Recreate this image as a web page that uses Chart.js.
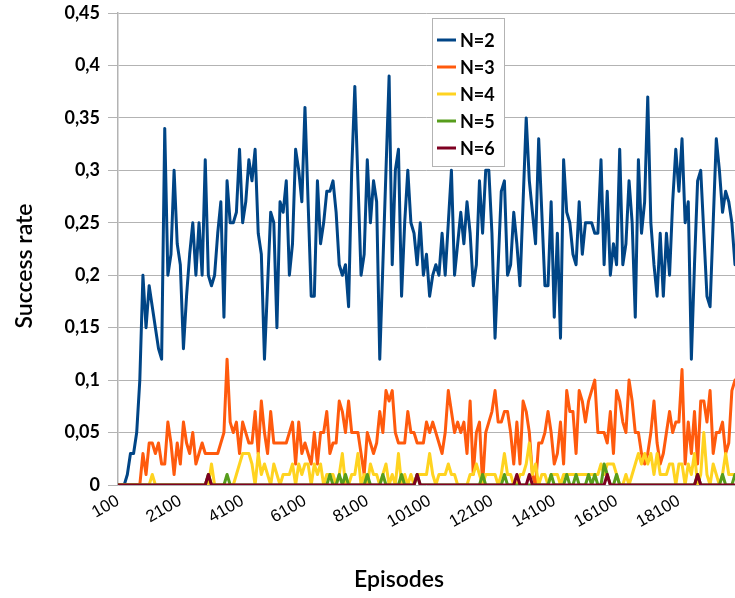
<!DOCTYPE html>
<html>
<head>
<meta charset="utf-8">
<title>Success rate</title>
<script src="https://cdn.jsdelivr.net/npm/chart.js@4"></script>
<style>
  html, body { margin: 0; padding: 0; background: #fff; overflow: hidden; }
  canvas { display: block; }
</style>
</head>
<body>
<canvas id="rateChart" width="735" height="598"></canvas>
<script>
// episodes 100 .. 19900, one sample every 100 episodes
var episodes = Array.from({ length: 199 }, function(_, i) { return 100 + i * 100; });
var tickLabels = [100, 2100, 4100, 6100, 8100, 10100, 12100, 14100, 16100, 18100];
var yTicks = [0, 0.05, 0.1, 0.15, 0.2, 0.25, 0.3, 0.35, 0.4, 0.45];
var seriesNames = ['N=2', 'N=3', 'N=4', 'N=5', 'N=6'];

var n2 = [
  0, 0, 0, 0.01, 0.03, 0.03, 0.05, 0.10, 0.20, 0.15,
  0.19, 0.17, 0.15, 0.13, 0.12, 0.34, 0.20, 0.22, 0.30, 0.23,
  0.21, 0.13, 0.18, 0.22, 0.25, 0.20, 0.25, 0.20, 0.31, 0.20,
  0.19, 0.20, 0.24, 0.27, 0.16, 0.29, 0.25, 0.25, 0.26, 0.32,
  0.25, 0.27, 0.31, 0.29, 0.32, 0.24, 0.22, 0.12, 0.19, 0.26,
  0.25, 0.15, 0.27, 0.26, 0.29, 0.20, 0.23, 0.32, 0.30, 0.27,
  0.36, 0.27, 0.18, 0.18, 0.29, 0.23, 0.25, 0.28, 0.28, 0.29,
  0.26, 0.21, 0.20, 0.21, 0.17, 0.30, 0.38, 0.29, 0.20, 0.22,
  0.31, 0.25, 0.29, 0.27, 0.12, 0.21, 0.30, 0.39, 0.21, 0.30,
  0.32, 0.18, 0.25, 0.30, 0.25, 0.24, 0.21, 0.25, 0.20, 0.22,
  0.18, 0.20, 0.21, 0.20, 0.24, 0.20, 0.25, 0.30, 0.20, 0.23,
  0.26, 0.23, 0.27, 0.24, 0.19, 0.21, 0.29, 0.24, 0.30, 0.30,
  0.24, 0.14, 0.21, 0.28, 0.29, 0.20, 0.21, 0.26, 0.23, 0.19,
  0.27, 0.35, 0.29, 0.26, 0.23, 0.33, 0.26, 0.19, 0.19, 0.27,
  0.16, 0.24, 0.14, 0.31, 0.26, 0.25, 0.22, 0.21, 0.27, 0.22,
  0.25, 0.25, 0.25, 0.24, 0.24, 0.31, 0.21, 0.28, 0.20, 0.23,
  0.21, 0.32, 0.21, 0.23, 0.29, 0.25, 0.16, 0.31, 0.24, 0.27,
  0.37, 0.25, 0.21, 0.18, 0.24, 0.18, 0.24, 0.20, 0.27, 0.32,
  0.28, 0.33, 0.25, 0.27, 0.12, 0.21, 0.29, 0.30, 0.24, 0.18,
  0.17, 0.25, 0.33, 0.30, 0.26, 0.28, 0.27, 0.25, 0.21
];

var n3 = [
  0, 0, 0, 0, 0, 0, 0, 0, 0.03, 0.01,
  0.04, 0.04, 0.03, 0.04, 0.02, 0.02, 0.06, 0.04, 0.01, 0.04,
  0.02, 0.06, 0.04, 0.03, 0.05, 0.02, 0.03, 0.04, 0.03, 0.03,
  0.03, 0.03, 0.03, 0.04, 0.05, 0.12, 0.06, 0.05, 0.06, 0.03,
  0.06, 0.05, 0.04, 0.04, 0.07, 0.03, 0.08, 0.05, 0.03, 0.07,
  0.04, 0.04, 0.04, 0.04, 0.04, 0.05, 0.06, 0.02, 0.06, 0.03,
  0.04, 0.03, 0.02, 0.05, 0.02, 0.05, 0.05, 0.07, 0.03, 0.04,
  0.04, 0.08, 0.07, 0.05, 0.08, 0.05, 0.05, 0.05, 0.03, 0.01,
  0.05, 0.04, 0.03, 0.04, 0.07, 0.05, 0.09, 0.08, 0.09, 0.05,
  0.04, 0.04, 0.04, 0.07, 0.05, 0.05, 0.04, 0.04, 0.04, 0.06,
  0.05, 0.06, 0.05, 0.04, 0.03, 0.05, 0.09, 0.07, 0.05, 0.06,
  0.05, 0.06, 0.03, 0.08, 0.01, 0.05, 0.06, 0, 0.05, 0.06,
  0.07, 0.09, 0.06, 0.06, 0.07, 0.07, 0.05, 0.02, 0.06, 0.02,
  0.08, 0.07, 0.05, 0.01, 0, 0.04, 0.04, 0.05, 0.07, 0.05,
  0.02, 0.03, 0.06, 0.02, 0.09, 0.07, 0.07, 0.03, 0.09, 0.08,
  0.06, 0.08, 0.09, 0.10, 0.05, 0.05, 0.05, 0.04, 0.07, 0.03,
  0.09, 0.08, 0.06, 0.05, 0.10, 0.08, 0.05, 0.05, 0.03, 0.02,
  0.03, 0.05, 0.08, 0.04, 0.02, 0.03, 0.05, 0.07, 0.05, 0.06,
  0.06, 0.11, 0.02, 0.06, 0.03, 0.07, 0.02, 0.08, 0.08, 0.06,
  0.09, 0.03, 0.05, 0.05, 0.06, 0.03, 0.04, 0.09, 0.10
];

var n4 = [
  0, 0, 0, 0, 0, 0, 0, 0, 0, 0,
  0, 0.01, 0, 0, 0, 0, 0, 0, 0, 0,
  0, 0, 0, 0, 0, 0, 0, 0, 0, 0,
  0.02, 0, 0, 0, 0, 0, 0, 0, 0.01, 0.02,
  0.03, 0.03, 0.03, 0.02, 0, 0.03, 0.01, 0.02, 0.01, 0,
  0.02, 0.01, 0, 0.01, 0.01, 0.01, 0.02, 0, 0.02, 0.01,
  0.02, 0.02, 0, 0.02, 0.01, 0.02, 0, 0.01, 0.01, 0.01,
  0, 0.01, 0.03, 0, 0, 0.01, 0.01, 0.03, 0, 0.01,
  0, 0.02, 0.01, 0.01, 0, 0.01, 0.02, 0, 0.01, 0,
  0.03, 0, 0.01, 0, 0.01, 0, 0.01, 0.01, 0.01, 0.01,
  0.03, 0.01, 0, 0.01, 0.01, 0.01, 0.02, 0.01, 0.01, 0,
  0, 0, 0, 0.01, 0.01, 0.02, 0.01, 0, 0.01, 0.01,
  0.01, 0.01, 0, 0.01, 0.03, 0.01, 0.01, 0, 0, 0.01,
  0.01, 0.02, 0.04, 0.01, 0.02, 0, 0.01, 0.01, 0, 0.01,
  0.01, 0.01, 0, 0.01, 0.01, 0.01, 0.01, 0.01, 0.01, 0.01,
  0.01, 0.01, 0.01, 0.01, 0.01, 0.02, 0.01, 0.02, 0.02, 0.02,
  0.01, 0, 0, 0.01, 0, 0.01, 0.02, 0.03, 0.02, 0.03,
  0.02, 0.03, 0.01, 0.03, 0.01, 0.01, 0.01, 0.02, 0.02, 0,
  0.02, 0.02, 0, 0.02, 0.01, 0.03, 0, 0.01, 0.05, 0.01,
  0, 0.02, 0.01, 0, 0.01, 0.03, 0.01, 0.01, 0.01
];

var n5 = [
  0, 0, 0, 0, 0, 0, 0, 0, 0, 0,
  0, 0, 0, 0, 0, 0, 0, 0, 0, 0,
  0, 0, 0, 0, 0, 0, 0, 0, 0, 0.01,
  0, 0, 0, 0, 0, 0.01, 0, 0, 0, 0,
  0, 0, 0, 0, 0, 0, 0, 0, 0, 0,
  0, 0, 0, 0, 0, 0, 0, 0, 0, 0,
  0, 0, 0, 0, 0, 0, 0, 0, 0.01, 0,
  0, 0.01, 0, 0.01, 0, 0, 0, 0, 0, 0,
  0.01, 0, 0, 0, 0, 0.01, 0, 0, 0, 0,
  0, 0.01, 0, 0, 0, 0, 0.01, 0, 0, 0,
  0, 0, 0, 0, 0, 0, 0, 0, 0, 0,
  0, 0, 0, 0, 0, 0, 0, 0.01, 0, 0,
  0, 0, 0, 0, 0.01, 0, 0, 0, 0, 0,
  0, 0, 0, 0, 0, 0, 0, 0, 0, 0.01,
  0, 0, 0, 0, 0.01, 0, 0, 0.01, 0, 0,
  0, 0.01, 0, 0.01, 0, 0, 0.02, 0.01, 0, 0,
  0.01, 0, 0, 0, 0, 0, 0, 0, 0, 0,
  0, 0, 0, 0, 0, 0, 0, 0, 0, 0,
  0, 0, 0, 0, 0, 0, 0.01, 0, 0, 0,
  0, 0, 0, 0, 0.01, 0, 0, 0, 0.01
];

var n6 = [
  0, 0, 0, 0, 0, 0, 0, 0, 0, 0,
  0, 0, 0, 0, 0, 0, 0, 0, 0, 0,
  0, 0, 0, 0, 0, 0, 0, 0, 0, 0.01,
  0, 0, 0, 0, 0, 0, 0, 0, 0, 0,
  0, 0, 0, 0, 0, 0, 0, 0, 0, 0,
  0, 0, 0, 0, 0, 0, 0, 0, 0, 0,
  0, 0, 0, 0, 0, 0, 0, 0, 0, 0,
  0, 0, 0, 0, 0, 0, 0, 0, 0, 0,
  0, 0, 0, 0, 0, 0, 0, 0, 0, 0,
  0, 0, 0, 0, 0, 0, 0.01, 0, 0, 0,
  0, 0, 0, 0, 0, 0, 0, 0, 0, 0,
  0, 0, 0, 0, 0, 0, 0, 0, 0, 0,
  0, 0, 0, 0, 0, 0, 0, 0, 0.01, 0,
  0, 0, 0.01, 0, 0, 0, 0, 0, 0, 0,
  0, 0, 0, 0, 0, 0, 0, 0, 0, 0,
  0, 0, 0, 0, 0, 0, 0, 0.01, 0, 0,
  0, 0, 0, 0, 0, 0, 0, 0, 0, 0,
  0, 0, 0, 0, 0, 0, 0, 0, 0, 0,
  0, 0, 0, 0, 0, 0, 0.01, 0, 0, 0,
  0, 0, 0, 0, 0, 0, 0, 0, 0
];

var seriesData = [n2, n3, n4, n5, n6];
var seriesColors = ['#004586', '#ff5a0d', '#ffd320', '#579d1c', '#7e0021'];

function toPoints(values) {
    return values.map(function(v, i) { return { x: episodes[i], y: v }; });
}

// boxed legend inside the plot plus the two axis titles
var chartLabels = {
    id: 'chartLabels',
    afterDraw: function(chart) {
        var ctx = chart.ctx;
        var bx = 432, by = 18, bw = 72, bh = 148;
        ctx.save();
        ctx.fillStyle = '#ffffff';
        ctx.fillRect(bx, by, bw, bh);
        ctx.strokeStyle = '#b3b3b3';
        ctx.lineWidth = 1;
        ctx.strokeRect(bx + 0.5, by + 0.5, bw, bh);

        ctx.font = 'bold 18px Lato';
        ctx.textBaseline = 'middle';
        ctx.textAlign = 'left';
        chart.data.datasets.forEach(function(ds, i) {
            var ly = by + 22 + i * 27;
            ctx.strokeStyle = ds.borderColor;
            ctx.lineWidth = 3;
            ctx.beginPath();
            ctx.moveTo(bx + 5, ly);
            ctx.lineTo(bx + 24, ly);
            ctx.stroke();
            ctx.fillStyle = '#000';
            ctx.fillText(ds.label, bx + 28, ly + 1);
        });

        ctx.font = '600 23px Lato';
        ctx.textAlign = 'center';
        ctx.fillText('Episodes', 399, 580);
        ctx.translate(25, 266);
        ctx.rotate(-Math.PI / 2);
        ctx.fillText('Success rate', 0, 0);
        ctx.restore();
    }
};

var ctx = document.getElementById('rateChart').getContext('2d');
var chart = new Chart(ctx, {
    type: 'line',
    data: {
        datasets: seriesNames.map(function(name, k) {
            return {
                label: name,
                data: toPoints(seriesData[k]),
                borderColor: seriesColors[k],
                backgroundColor: seriesColors[k],
                borderWidth: 3,
                borderJoinStyle: 'round',
                borderCapStyle: 'round',
                pointRadius: 0,
                tension: 0,
                fill: false,
                order: seriesNames.length - k
            };
        })
    },
    options: {
        responsive: false,
        animation: false,
        layout: { padding: { top: 13, right: 0, bottom: 0, left: 0 } },
        plugins: {
            legend: { display: false },
            tooltip: { enabled: false }
        },
        scales: {
            x: {
                type: 'linear',
                min: episodes[0],
                max: episodes[episodes.length - 1],
                grid: { display: false, drawTicks: false },
                border: { display: false },
                afterBuildTicks: function(axis) {
                    axis.ticks = tickLabels.map(function(v) { return { value: v }; });
                },
                afterFit: function(scale) { scale.height = 113; },
                ticks: {
                    autoSkip: false,
                    minRotation: 30,
                    maxRotation: 30,
                    padding: 6,
                    color: '#000',
                    font: { family: 'Liberation Sans', size: 17 },
                    callback: function(value) { return String(value); }
                }
            },
            y: {
                min: 0,
                max: 0.45,
                afterBuildTicks: function(axis) {
                    axis.ticks = yTicks.map(function(v) { return { value: v }; });
                },
                afterFit: function(scale) {
                    scale.width = 118;
                    scale.paddingTop = 0;
                    scale.paddingBottom = 0;
                },
                grid: { color: '#b3b3b3', lineWidth: 1, tickLength: 10 },
                border: { color: '#b3b3b3', width: 1.5 },
                ticks: {
                    padding: 8,
                    color: '#000',
                    font: { family: 'Lato', size: 18, weight: 'bold' },
                    callback: function(value) {
                        return String(Math.round(value * 100) / 100).replace('.', ',');
                    }
                }
            }
        }
    },
    plugins: [chartLabels]
});
</script>
</body>
</html>
